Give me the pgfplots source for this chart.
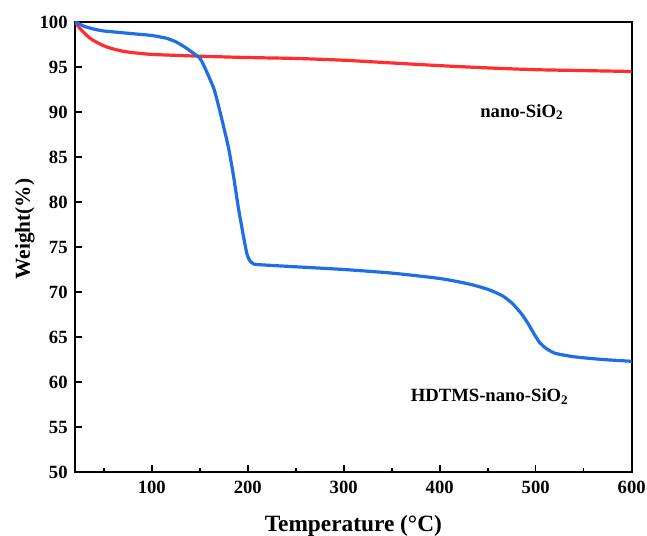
\documentclass[border=0pt]{standalone}
\usepackage{pgfplots}
\pgfplotsset{compat=1.18}
\usepackage{fontspec}
\setmainfont{Liberation Serif}
\definecolor{tgared}{RGB}{255,45,45}
\definecolor{tgablue}{RGB}{30,110,228}
\begin{document}
\begin{tikzpicture}
\begin{axis}[
    scale only axis,
    width=417.5pt, height=337.5pt,
    xmin=20, xmax=600,
    ymin=50, ymax=100,
    xtick={100,200,...,600},
    minor xtick={50,150,...,550},
    ytick={50,55,...,100},
    tick align=inside,
    xtick pos=bottom, ytick pos=left,
    major tick length=5pt,
    minor tick length=3pt,
    axis line style={line width=1.4pt},
    every tick/.style={black, line width=1.2pt},
    tick label style={font=\fontsize{14}{16}\selectfont\bfseries},
    /pgf/number format/assume math mode=true,
    xticklabel style={yshift=-3pt},
    yticklabel style={xshift=-2pt},
    xlabel={Temperature (°C)},
    ylabel={Weight(\%)},
    xlabel style={font=\fontsize{17.5}{20}\selectfont\bfseries, yshift=-10pt},
    ylabel style={font=\fontsize{16}{18}\selectfont\bfseries,
                  at={(ticklabel cs:0.54)}, yshift=-3pt},
    clip=true,
]
\addplot[tgared, line width=2.4pt, line join=round, smooth, tension=0.4] coordinates {
  (20,100) (25,99.3) (30,98.75) (35,98.25) (40,97.9) (50,97.35) (60,97.0)
  (70,96.75) (80,96.6) (100,96.4) (150,96.2) (200,96.05) (250,95.95)
  (300,95.75) (350,95.45) (400,95.15) (450,94.9) (500,94.7) (550,94.6) (600,94.5)
};
\addplot[tgablue, line width=2.4pt, line join=round, smooth, tension=0.4] coordinates {
  (20,100) (25,99.75) (30,99.5) (40,99.2) (50,99.0) (60,98.9) (80,98.7)
  (100,98.5) (115,98.2) (125,97.8) (133,97.3) (140,96.8) (145,96.4)
  (150,96.0) (155,95.0) (160,93.8) (165,92.5) (170,90.5) (175,88.3)
  (180,86.0) (185,83.0) (190,79.5) (195,76.5) (199,74.3) (202,73.5)
  (205,73.2) (210,73.05) (250,72.8) (300,72.5) (350,72.1) (400,71.5)
  (430,70.9) (450,70.3) (465,69.6) (475,68.8) (485,67.6) (492,66.5)
  (498,65.4) (504,64.4) (510,63.8) (520,63.2) (540,62.8) (570,62.5) (600,62.3)
};
\node[font=\fontsize{14}{16}\selectfont\bfseries] at (axis cs:485.5,90.0) {nano-SiO\textsubscript{2}};
\node[font=\fontsize{14}{16}\selectfont\bfseries] at (axis cs:452,58.4) {HDTMS-nano-SiO\textsubscript{2}};
\coordinate (sw) at (rel axis cs:0,0);
\coordinate (ne) at (rel axis cs:1,1);
\end{axis}
\pgfresetboundingbox
\path ([shift={(-56.25pt,-48pt)}]sw) rectangle ([shift={(11.5pt,16.5pt)}]ne);
\end{tikzpicture}
\end{document}
